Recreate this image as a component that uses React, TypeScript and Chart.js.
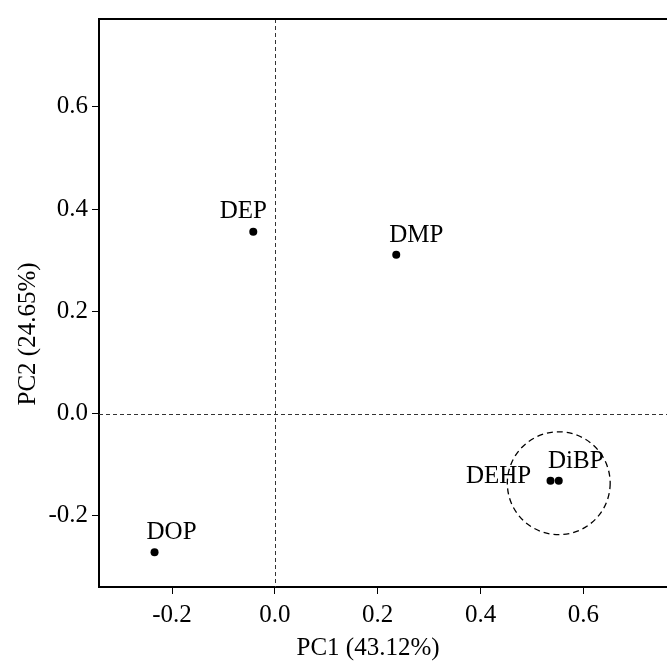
import React, { useEffect, useRef } from "react";
import { Chart, registerables } from "chart.js";

Chart.register(...registerables);

const names = ["DEP", "DMP", "DOP", "DEHP", "DiBP"];
const pc1 = [-0.042, 0.236, -0.234, 0.536, 0.552];
const pc2 = [0.356, 0.311, -0.271, -0.131, -0.131];
const xTicks = [-0.2, 0.0, 0.2, 0.4, 0.6];
const yTicks = [-0.2, 0.0, 0.2, 0.4, 0.6];
const xRange = [-0.342, 0.78];
const yRange = [-0.339, 0.772];
const clusterCenter = [0.552, -0.136];
const clusterRadius = 0.1;
const xTitle = "PC1 (43.12%)";
const yTitle = "PC2 (24.65%)";

const FONT = "'Liberation Serif', 'DejaVu Serif', serif";

// label placement relative to each point, in pixels
const labelOffsets: Record<string, { dx: number; dy: number }> = {
  DEP: { dx: -10, dy: -20 },
  DMP: { dx: 20, dy: -19 },
  DOP: { dx: 17, dy: -20 },
  DEHP: { dx: -52, dy: -4 },
  DiBP: { dx: 17, dy: -19 },
};

const overlayPlugin = {
  id: "overlay",
  beforeDatasetsDraw(chart: any) {
    const { ctx, chartArea, scales } = chart;
    const xs = scales.x;
    const ys = scales.y;
    ctx.save();
    // zero reference lines
    ctx.strokeStyle = "#333";
    ctx.lineWidth = 1;
    ctx.setLineDash([4, 3]);
    const x0 = Math.round(xs.getPixelForValue(0)) + 0.5;
    const y0 = Math.round(ys.getPixelForValue(0)) + 0.5;
    ctx.beginPath();
    ctx.moveTo(x0, chartArea.top);
    ctx.lineTo(x0, chartArea.bottom);
    ctx.moveTo(chartArea.left, y0);
    ctx.lineTo(chartArea.right, y0);
    ctx.stroke();
    // cluster circle
    const cx = xs.getPixelForValue(clusterCenter[0]);
    const cy = ys.getPixelForValue(clusterCenter[1]);
    const r = Math.abs(xs.getPixelForValue(clusterCenter[0] + clusterRadius) - cx);
    ctx.strokeStyle = "#000";
    ctx.lineWidth = 1.3;
    ctx.setLineDash([6, 4]);
    ctx.beginPath();
    ctx.arc(cx, cy, r, 0, Math.PI * 2);
    ctx.stroke();
    // top border
    ctx.setLineDash([]);
    ctx.lineWidth = 2;
    ctx.beginPath();
    ctx.moveTo(chartArea.left - 1, chartArea.top);
    ctx.lineTo(chartArea.right, chartArea.top);
    ctx.stroke();
    ctx.restore();
  },
  afterDatasetsDraw(chart: any) {
    const { ctx, scales, chartArea } = chart;
    ctx.save();
    ctx.font = `25px ${FONT}`;
    ctx.fillStyle = "#000";
    ctx.textAlign = "center";
    ctx.textBaseline = "middle";
    names.forEach((n, i) => {
      const px = scales.x.getPixelForValue(pc1[i]);
      const py = scales.y.getPixelForValue(pc2[i]);
      const o = labelOffsets[n] || { dx: 0, dy: -20 };
      ctx.fillText(n, px + o.dx, py + o.dy);
    });
    // axis titles
    ctx.fillText(xTitle, chartArea.left + 269, chartArea.bottom + 61);
    ctx.translate(28, chartArea.top + 315);
    ctx.rotate(-Math.PI / 2);
    ctx.fillText(yTitle, 0, 0);
    ctx.restore();
  },
};

export default function App() {
  const ref = useRef<HTMLCanvasElement | null>(null);
  useEffect(() => {
    if (!ref.current) return;
    const chart = new Chart(ref.current, {
      type: "scatter",
      data: {
        datasets: [
          {
            data: pc1.map((v, i) => ({ x: v, y: pc2[i] })),
            backgroundColor: "#000",
            borderWidth: 0,
            pointRadius: 4,
          },
        ],
      },
      options: {
        animation: false,
        responsive: false,
        devicePixelRatio: 1,
        layout: { padding: { top: 12, right: 0, left: 0, bottom: 0 } },
        plugins: { legend: { display: false }, tooltip: { enabled: false } },
        scales: {
          x: {
            type: "linear",
            min: xRange[0],
            max: xRange[1],
            afterFit: (s: any) => {
              s.height = 79;
            },
            afterBuildTicks: (s: any) => {
              s.ticks = xTicks.map((v) => ({ value: v }));
            },
            grid: {
              drawOnChartArea: false,
              drawTicks: true,
              tickLength: 7,
              tickColor: "#000",
              tickWidth: 1,
            },
            border: { display: true, color: "#000", width: 2 },
            ticks: {
              color: "#000",
              padding: 6,
              font: { family: FONT, size: 25 },
              callback: (v: any) => Number(v).toFixed(1),
            },
            title: { display: false },
          },
          y: {
            type: "linear",
            min: yRange[0],
            max: yRange[1],
            afterFit: (s: any) => {
              s.width = 99;
            },
            afterBuildTicks: (s: any) => {
              s.ticks = yTicks.map((v) => ({ value: v }));
            },
            grid: {
              drawOnChartArea: false,
              drawTicks: true,
              tickLength: 7,
              tickColor: "#000",
              tickWidth: 1,
            },
            border: { display: true, color: "#000", width: 2 },
            ticks: {
              color: "#000",
              padding: 4,
              font: { family: FONT, size: 25 },
              callback: (v: any) => Number(v).toFixed(1),
            },
            title: { display: false },
          },
        },
      },
      plugins: [overlayPlugin],
    });
    return () => chart.destroy();
  }, []);
  return (
    <div
      style={{
        position: "fixed",
        left: 0,
        top: 0,
        width: 667,
        height: 666,
        overflow: "hidden",
        background: "#fff",
      }}
    >
      <canvas ref={ref} width={680} height={666} style={{ display: "block" }} />
    </div>
  );
}
